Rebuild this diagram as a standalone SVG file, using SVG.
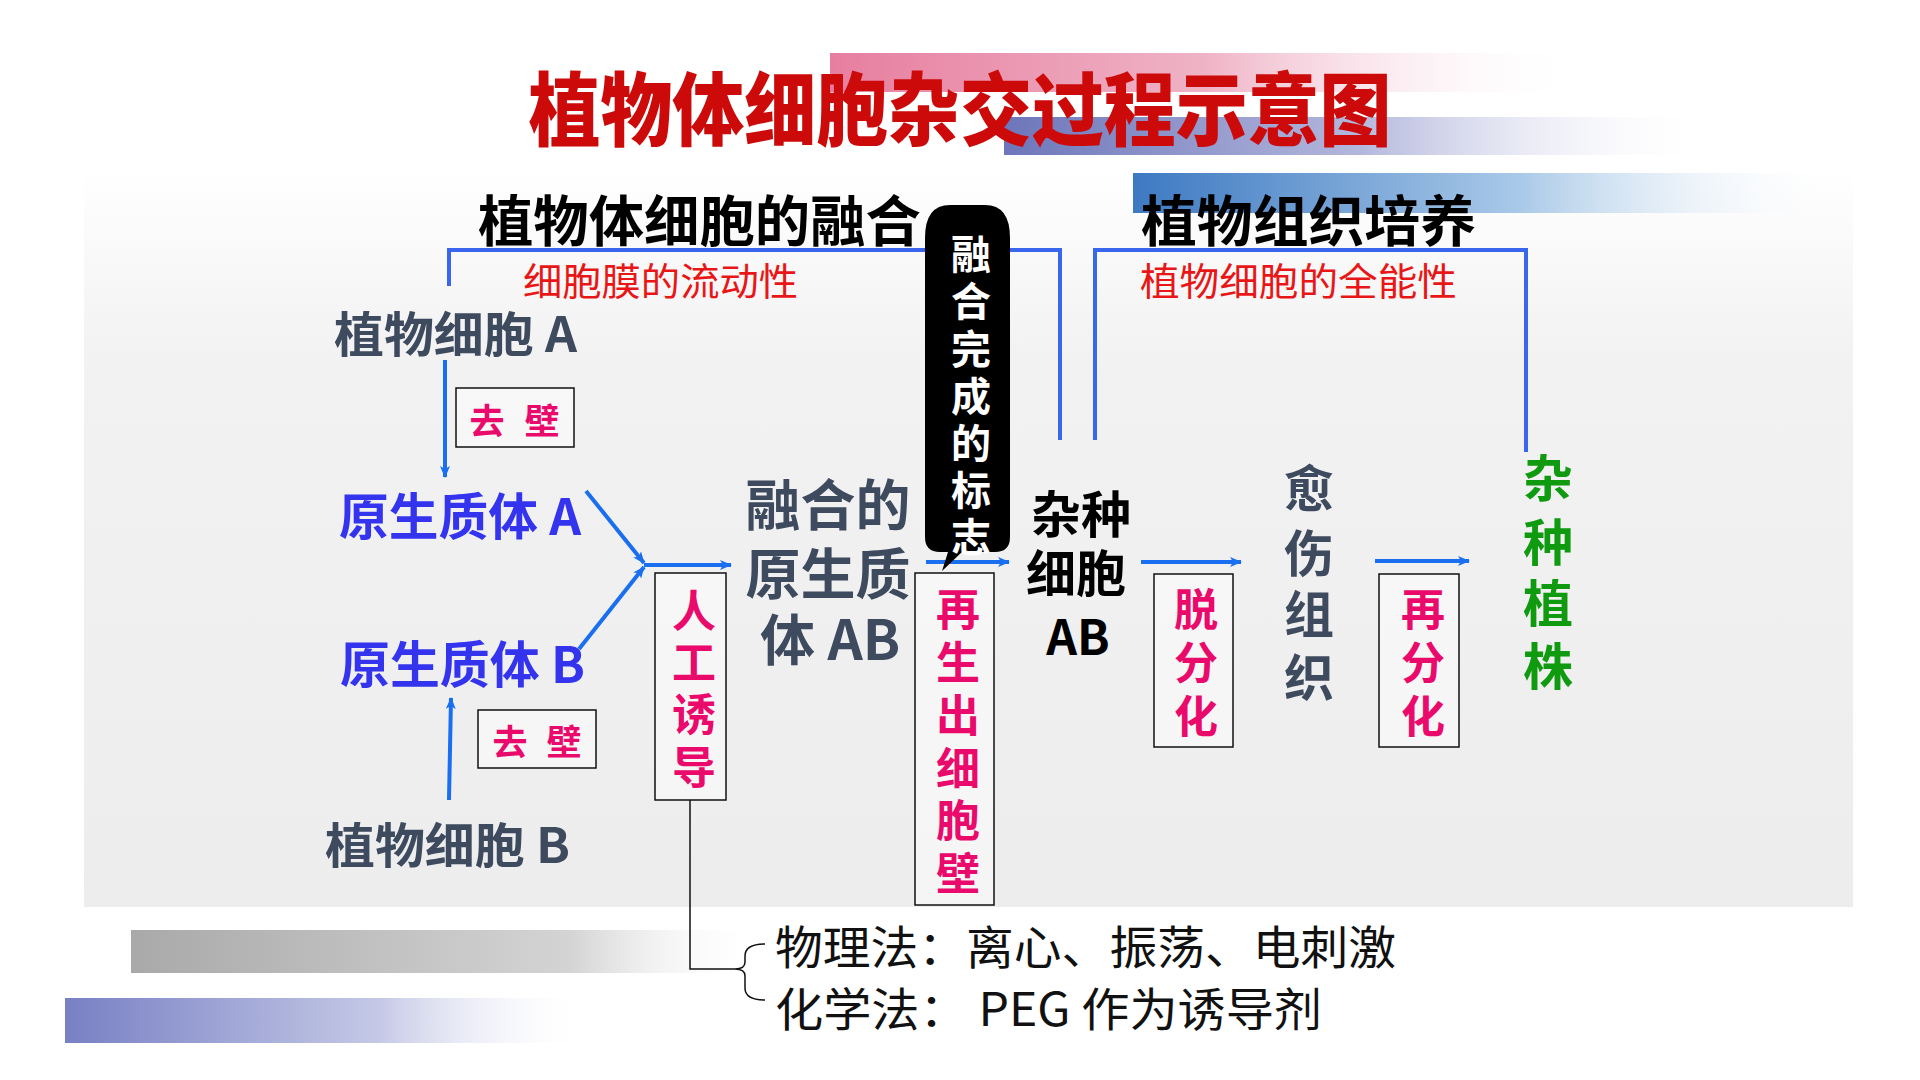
<svg xmlns="http://www.w3.org/2000/svg" width="1920" height="1080" viewBox="0 0 1920 1080">
<defs>
<linearGradient id="gPanel" x1="0" y1="0" x2="0" y2="1">
<stop offset="0" stop-color="#ffffff"/>
<stop offset="0.25" stop-color="#f2f2f3"/>
<stop offset="1" stop-color="#ededee"/>
</linearGradient>
<linearGradient id="gPink" x1="0" y1="0" x2="1" y2="0">
<stop offset="0" stop-color="#e77ea0"/>
<stop offset="0.5" stop-color="#efb3c6"/>
<stop offset="1" stop-color="#ffffff" stop-opacity="0"/>
</linearGradient>
<linearGradient id="gPurple" x1="0" y1="0" x2="1" y2="0">
<stop offset="0" stop-color="#6d76ba"/>
<stop offset="0.5" stop-color="#b3b7dc"/>
<stop offset="1" stop-color="#ffffff" stop-opacity="0"/>
</linearGradient>
<linearGradient id="gBlue" x1="0" y1="0" x2="1" y2="0">
<stop offset="0" stop-color="#3d79c2"/>
<stop offset="0.55" stop-color="#a9c9e8"/>
<stop offset="1" stop-color="#ffffff" stop-opacity="0"/>
</linearGradient>
<linearGradient id="gGray" x1="0" y1="0" x2="1" y2="0">
<stop offset="0" stop-color="#a9a9a9"/>
<stop offset="0.7" stop-color="#d4d4d4"/>
<stop offset="1" stop-color="#ffffff" stop-opacity="0"/>
</linearGradient>
<linearGradient id="gBlue2" x1="0" y1="0" x2="1" y2="0">
<stop offset="0" stop-color="#7880c4"/>
<stop offset="0.6" stop-color="#c5c9e6"/>
<stop offset="1" stop-color="#ffffff" stop-opacity="0"/>
</linearGradient>
<marker id="arr" viewBox="0 0 12 10" refX="11" refY="5" markerWidth="12" markerHeight="10" markerUnits="userSpaceOnUse" orient="auto">
<path d="M0,0 L12,5 L0,10 L3,5 Z" fill="#1a6ff0"/>
</marker>
<style>
.cjk{font-family:"Noto Sans CJK SC","Noto Sans",sans-serif;}
.b{font-weight:700;}
.slate{fill:#3e4a5e;}
.blue{fill:#3434ee;}
.pink{fill:#ea0a6c;}
.red{fill:#e81616;}
.mid{text-anchor:middle;}
.box{fill:#ffffff;fill-opacity:0.45;stroke:#111111;stroke-width:1.5;}
.arrow{stroke:#1a6ff0;stroke-width:4;fill:none;marker-end:url(#arr);}
.bracket{stroke:#3a66ee;stroke-width:4;fill:none;}
.thin{stroke:#111111;stroke-width:1.5;fill:none;}
</style>
</defs>

<g id="background">
<rect x="0" y="0" width="1920" height="1080" fill="#ffffff"/>
<rect x="84" y="170" width="1769" height="737" fill="url(#gPanel)"/>
<rect x="830" y="53" width="750" height="39" fill="url(#gPink)"/>
<rect x="1004" y="117" width="710" height="38" fill="url(#gPurple)"/>
<rect x="1133" y="173" width="704" height="40" fill="url(#gBlue)"/>
<rect x="131" y="930" width="629" height="43" fill="url(#gGray)"/>
<rect x="65" y="998" width="525" height="45" fill="url(#gBlue2)"/>
</g>

<g id="title">
<text class="cjk" transform="translate(960,139) scale(1,1.1)" text-anchor="middle" font-size="72" font-weight="900" fill="#cc0a0a" textLength="863" lengthAdjust="spacingAndGlyphs">植物体细胞杂交过程示意图</text>
</g>

<g id="section-fusion">
<text class="cjk b" x="478" y="241" font-size="55" fill="#000000" textLength="443" lengthAdjust="spacingAndGlyphs">植物体细胞的融合</text>
<text class="cjk red" x="523" y="295" font-size="38" textLength="275" lengthAdjust="spacingAndGlyphs">细胞膜的流动性</text>
</g>

<g id="section-culture">
<text class="cjk b" x="1141" y="241" font-size="55" fill="#000000" textLength="335" lengthAdjust="spacingAndGlyphs">植物组织培养</text>
<text class="cjk red" x="1140" y="295" font-size="38" textLength="317" lengthAdjust="spacingAndGlyphs">植物细胞的全能性</text>
</g>

<g id="connectors">
<path class="bracket" d="M449,286 V250 H1060 V440"/>
<path class="bracket" d="M1095,440 V250 H1526 V452"/>
<line class="arrow" x1="445" y1="360" x2="445" y2="477"/>
<line class="arrow" x1="449" y1="800" x2="451" y2="698"/>
<line class="arrow" x1="586" y1="491" x2="644" y2="563"/>
<line class="arrow" x1="579" y1="649" x2="644" y2="567"/>
<line class="arrow" x1="644" y1="565" x2="731" y2="565"/>
<line class="arrow" x1="926" y1="562" x2="1009" y2="562"/>
<line class="arrow" x1="1141" y1="562" x2="1241" y2="562"/>
<line class="arrow" x1="1375" y1="561" x2="1469" y2="561"/>
<path class="thin" d="M690,800 V969 H735"/>
<path class="thin" d="M765,944 Q745,944 745,956 V962 Q745,969 735,969 Q745,969 745,976 V988 Q745,1000 765,1000"/>
</g>

<g id="cellA">
<text class="cjk b slate" x="334" y="352" font-size="48" textLength="243" lengthAdjust="spacingAndGlyphs">植物细胞 A</text>
</g>

<g id="wallRemovalA">
<rect class="box" x="456" y="388" width="118" height="59"/>
<text class="cjk b pink mid" x="487" y="434" font-size="35">去</text>
<text class="cjk b pink mid" x="542" y="434" font-size="35">壁</text>
</g>

<g id="protoplastA">
<text class="cjk b blue" x="339" y="535" font-size="50" textLength="242" lengthAdjust="spacingAndGlyphs">原生质体 A</text>
</g>

<g id="protoplastB">
<text class="cjk b blue" x="340" y="683" font-size="50" textLength="245" lengthAdjust="spacingAndGlyphs">原生质体 B</text>
</g>

<g id="wallRemovalB">
<rect class="box" x="478" y="710" width="118" height="58"/>
<text class="cjk b pink mid" x="510" y="755" font-size="35">去</text>
<text class="cjk b pink mid" x="564" y="755" font-size="35">壁</text>
</g>

<g id="cellB">
<text class="cjk b slate" x="325" y="863" font-size="48" textLength="245" lengthAdjust="spacingAndGlyphs">植物细胞 B</text>
</g>

<g id="induction">
<rect class="box" x="655" y="573" width="71" height="227"/>
<text class="cjk b pink mid" x="694" y="627" font-size="44">人</text>
<text class="cjk b pink mid" x="694" y="679" font-size="44">工</text>
<text class="cjk b pink mid" x="694" y="731" font-size="44">诱</text>
<text class="cjk b pink mid" x="694" y="784" font-size="44">导</text>
</g>

<g id="fusedProtoplast">
<text class="cjk b slate mid" x="828" y="525" font-size="55">融合的</text>
<text class="cjk b slate mid" x="828" y="594" font-size="55">原生质</text>
<text class="cjk b slate mid" x="830" y="660" font-size="55">体 AB</text>
</g>

<g id="fusionMark">
<path d="M950,205 H985 Q1010,205 1010,238 V537 Q1010,552 995,552 H962 L942,571 L948,552 H940 Q925,552 925,537 V238 Q925,205 950,205 Z" fill="#000000"/>
<text class="cjk b mid" x="971" y="269" font-size="40" fill="#ffffff">融</text>
<text class="cjk b mid" x="971" y="316" font-size="40" fill="#ffffff">合</text>
<text class="cjk b mid" x="971" y="364" font-size="40" fill="#ffffff">完</text>
<text class="cjk b mid" x="971" y="411" font-size="40" fill="#ffffff">成</text>
<text class="cjk b mid" x="971" y="458" font-size="40" fill="#ffffff">的</text>
<text class="cjk b mid" x="971" y="505" font-size="40" fill="#ffffff">标</text>
<text class="cjk b mid" x="971" y="552" font-size="40" fill="#ffffff">志</text>
</g>

<g id="wallRegeneration">
<rect class="box" x="915" y="573" width="79" height="332"/>
<text class="cjk b pink mid" x="958" y="626" font-size="44">再</text>
<text class="cjk b pink mid" x="958" y="679" font-size="44">生</text>
<text class="cjk b pink mid" x="958" y="732" font-size="44">出</text>
<text class="cjk b pink mid" x="958" y="785" font-size="44">细</text>
<text class="cjk b pink mid" x="958" y="837" font-size="44">胞</text>
<text class="cjk b pink mid" x="958" y="890" font-size="44">壁</text>
</g>

<g id="hybridCell">
<text class="cjk b mid" x="1081" y="533" font-size="50" fill="#000000">杂种</text>
<text class="cjk b mid" x="1076" y="592" font-size="50" fill="#000000">细胞</text>
<text class="cjk b mid" x="1078" y="655" font-size="48" fill="#000000">AB</text>
</g>

<g id="dedifferentiation">
<rect class="box" x="1154" y="574" width="79" height="173"/>
<text class="cjk b pink mid" x="1196" y="626" font-size="44">脱</text>
<text class="cjk b pink mid" x="1196" y="679" font-size="44">分</text>
<text class="cjk b pink mid" x="1196" y="733" font-size="44">化</text>
</g>

<g id="callus">
<text class="cjk b slate mid" x="1309" y="507" font-size="50">愈</text>
<text class="cjk b slate mid" x="1309" y="572" font-size="50">伤</text>
<text class="cjk b slate mid" x="1309" y="633" font-size="50">组</text>
<text class="cjk b slate mid" x="1309" y="696" font-size="50">织</text>
</g>

<g id="redifferentiation">
<rect class="box" x="1379" y="574" width="80" height="173"/>
<text class="cjk b pink mid" x="1423" y="626" font-size="44">再</text>
<text class="cjk b pink mid" x="1423" y="679" font-size="44">分</text>
<text class="cjk b pink mid" x="1423" y="733" font-size="44">化</text>
</g>

<g id="hybridPlant">
<text class="cjk b mid" x="1548" y="497" font-size="50" fill="#109a10">杂</text>
<text class="cjk b mid" x="1548" y="561" font-size="50" fill="#109a10">种</text>
<text class="cjk b mid" x="1548" y="622" font-size="50" fill="#109a10">植</text>
<text class="cjk b mid" x="1548" y="685" font-size="50" fill="#109a10">株</text>
</g>

<g id="methods">
<text class="cjk" x="775" y="964" font-size="46" fill="#111111" textLength="621" lengthAdjust="spacingAndGlyphs">物理法：离心、振荡、电刺激</text>
<text class="cjk" x="775" y="1026" font-size="46" fill="#111111" textLength="547" lengthAdjust="spacingAndGlyphs">化学法： PEG 作为诱导剂</text>
</g>
</svg>
